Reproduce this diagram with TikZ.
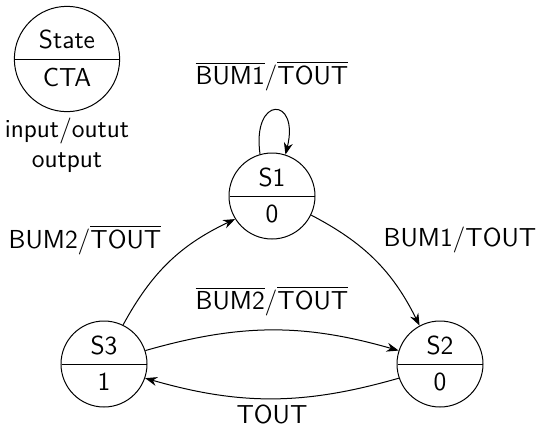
\documentclass[tikz,border=0pt]{standalone}
\usetikzlibrary{shapes.multipart,arrows.meta}
\begin{document}
\begin{tikzpicture}[x=0.5pt,y=-0.5pt,
  font=\sffamily\fontsize{13}{15}\selectfont,
  statebox/.style={circle split, draw, line width=0.5pt, minimum size=43pt, inner sep=4pt},
  legendbox/.style={circle split, draw, line width=0.5pt, minimum size=52pt, inner sep=4.5pt},
  trans/.style={-{Stealth[length=6pt,width=4.5pt]}, line width=0.5pt},
  lbl/.style={inner sep=1pt}]
\useasboundingbox (0,0) rectangle (536,435);
\newcommand{\ovl}[1]{\(\overline{\hbox{\sffamily\fontsize{13}{15}\selectfont #1}}\)}
\node[legendbox] (legend) at (67,59) {State \nodepart{lower} CTA};
\node[lbl, align=center] (legendtxt) at (67,145) {input/outut\\output};
\node[statebox] (s1) at (272,196) {S1 \nodepart{lower} 0};
\node[statebox] (s3) at (104,364) {S3 \nodepart{lower} 1};
\node[statebox] (s2) at (440,364) {S2 \nodepart{lower} 0};
\draw[trans] (s1.106) .. controls +(98:30pt) and +(76:30pt) .. (s1.72);
\draw[trans] (s3.64) to[bend left=18] (s1.212);
\draw[trans] (s1.-26) to[bend left=18] (s2.118);
\draw[trans] (s3.18) to[bend left=16] (s2.162);
\draw[trans] (s2.199) to[bend left=16] (s3.-19);
\node[lbl] (l11) at (272,76) {\ovl{BUM1}/\ovl{TOUT}};
\node[lbl] (l31) at (85,240) {BUM2/\ovl{TOUT}};
\node[lbl] (l12) at (460,240) {BUM1/TOUT};
\node[lbl] (l32) at (272,301) {\ovl{BUM2}/\ovl{TOUT}};
\node[lbl] (l23) at (272,414) {TOUT};
\end{tikzpicture}
\end{document}
